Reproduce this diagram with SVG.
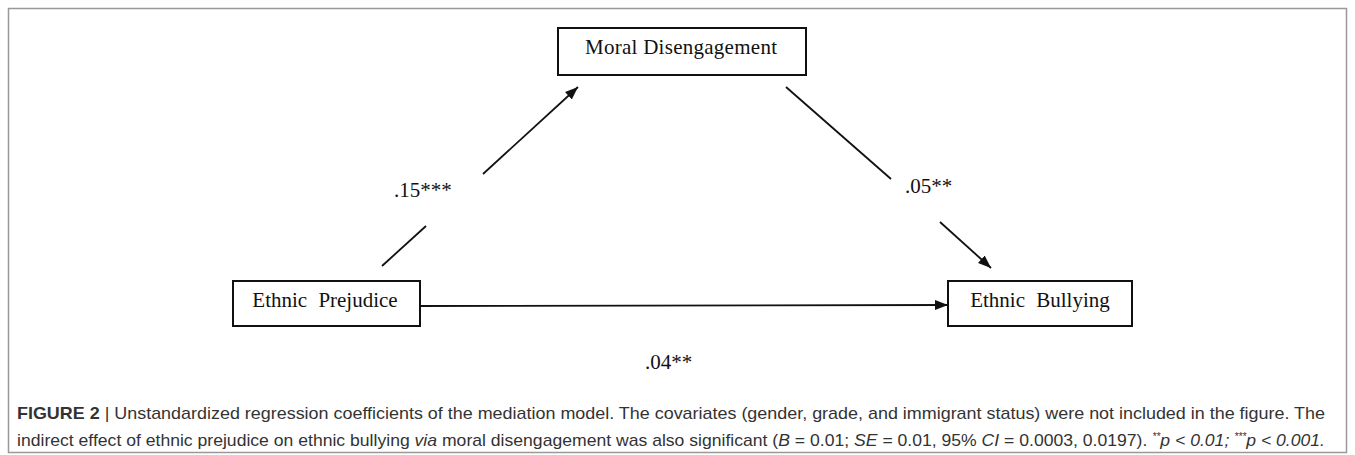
<svg xmlns="http://www.w3.org/2000/svg" width="1355" height="455" viewBox="0 0 1355 455">
<style>
.box{fill:#fff;stroke:#111;stroke-width:2}
.lbl{font-family:"Liberation Serif","Times New Roman",serif;font-size:21px;fill:#111}
.coef{font-family:"Liberation Serif","Times New Roman",serif;font-size:21px;fill:#111}
.edge{stroke:#111;stroke-width:1.8;fill:none}
.cap{font-family:"Liberation Sans",Arial,sans-serif;font-size:17px;fill:#333}
</style>
<defs>
<marker id="ah" markerWidth="14" markerHeight="12" refX="13" refY="6" orient="auto" markerUnits="userSpaceOnUse">
<path d="M0,1 L13,6 L0,11 Z" fill="#111"/>
</marker>
</defs>
<rect x="8.5" y="8.5" width="1338" height="444" fill="none" stroke="#999" stroke-width="1.5"/>
<g id="connectors">
<line class="edge" x1="483" y1="174" x2="578" y2="87" marker-end="url(#ah)"/>
<line class="edge" x1="382" y1="266" x2="426" y2="226"/>
<line class="edge" x1="786" y1="87" x2="891" y2="179"/>
<line class="edge" x1="940" y1="222" x2="991" y2="268" marker-end="url(#ah)"/>
<line class="edge" x1="420" y1="306" x2="948" y2="305" marker-end="url(#ah)"/>
<text class="coef" x="394" y="197">.15***</text>
<text class="coef" x="905" y="193">.05**</text>
<text class="coef" x="645" y="369">.04**</text>
</g>
<g id="moral">
<rect class="box" x="558" y="28" width="248" height="47"/>
<text class="lbl" x="681" y="54" text-anchor="middle" textLength="192">Moral Disengagement</text>
</g>
<g id="prejudice">
<rect class="box" x="233" y="281" width="187" height="45"/>
<text class="lbl" x="325" y="307" text-anchor="middle" word-spacing="6">Ethnic Prejudice</text>
</g>
<g id="bullying">
<rect class="box" x="948" y="281" width="184" height="45"/>
<text class="lbl" x="1040" y="307" text-anchor="middle" word-spacing="6">Ethnic Bullying</text>
</g>
<g id="caption">
<text class="cap" x="17" y="419" textLength="1308" lengthAdjust="spacingAndGlyphs"><tspan font-weight="bold">FIGURE 2</tspan> | Unstandardized regression coefficients of the mediation model. The covariates (gender, grade, and immigrant status) were not included in the figure. The</text>
<text class="cap" x="17" y="446" textLength="1308" lengthAdjust="spacingAndGlyphs">indirect effect of ethnic prejudice on ethnic bullying <tspan font-style="italic">via</tspan> moral disengagement was also significant (<tspan font-style="italic">B</tspan> = 0.01; <tspan font-style="italic">SE</tspan> = 0.01, 95% <tspan font-style="italic">CI</tspan> = 0.0003, 0.0197). <tspan font-style="italic"><tspan font-size="10" dy="-6">**</tspan><tspan dy="6">p</tspan> &lt; 0.01; <tspan font-size="10" dy="-6">***</tspan><tspan dy="6">p</tspan> &lt; 0.001.</tspan></text>
</g>
</svg>
